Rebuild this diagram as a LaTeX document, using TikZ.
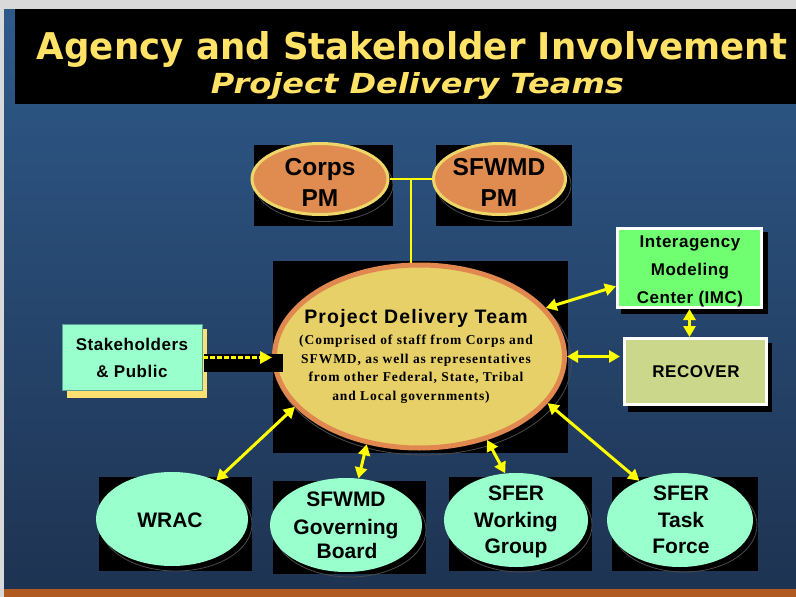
\documentclass[tikz,border=0pt]{standalone}
\usepackage{fontspec}
\setmainfont{Liberation Sans}
\newfontfamily\titlefont{DejaVu Sans}
\newfontfamily\serifb{Liberation Serif}
\usetikzlibrary{shapes.geometric,arrows.meta,calc}
\definecolor{lgray}{RGB}{217,217,217}
\definecolor{bgtop}{RGB}{46,90,138}
\definecolor{bgbot}{RGB}{30,51,82}
\definecolor{ttl}{RGB}{255,226,102}
\definecolor{pmfill}{RGB}{224,140,80}
\definecolor{pmedge}{RGB}{238,214,104}
\definecolor{pdtfill}{RGB}{232,208,104}
\definecolor{pdtedge}{RGB}{224,136,80}
\definecolor{aqua}{RGB}{153,255,204}
\definecolor{imcg}{RGB}{112,255,112}
\definecolor{recg}{RGB}{203,215,139}
\definecolor{shy}{RGB}{255,224,112}
\definecolor{orng}{RGB}{176,90,34}
\definecolor{arr}{RGB}{255,255,0}
\definecolor{stedge}{RGB}{90,160,150}
\definecolor{shline}{RGB}{75,75,75}
\begin{document}
\begin{tikzpicture}[x=1pt,y=-1pt,
  lbl/.style={anchor=base, inner sep=0, font=\bfseries\fontsize{21}{21}\selectfont},
  pmlbl/.style={anchor=base, inner sep=0, font=\bfseries\fontsize{24.5}{24.5}\selectfont},
  boxlbl/.style={anchor=base, inner sep=0, font=\bfseries\fontsize{17}{17}\selectfont\addfontfeature{LetterSpace=3}},
  sublbl/.style={anchor=base, inner sep=0, font=\serifb\bfseries\fontsize{13.5}{13.5}\selectfont\addfontfeature{LetterSpace=7}},
  pmell/.style={ellipse, fill=pmfill, draw=pmedge, line width=3pt, inner sep=0},
  aqell/.style={ellipse, fill=aqua, inner sep=0, minimum height=94pt},
  wbox/.style={rectangle, draw=white, line width=3pt, inner sep=0},
  shell/.style={draw=shline, line width=0.8pt},
  conn/.style={draw=arr, line width=2pt},
  dar/.style={draw=arr, line width=3pt, {Triangle[length=11pt,width=12pt]}-{Triangle[length=11pt,width=12pt]}},
  dashar/.style={draw=arr, line width=3.5pt, dash pattern=on 5pt off 2pt, -{Triangle[length=12pt,width=12pt]}}
]
\useasboundingbox (0,0) rectangle (796,597);
% background
\fill[lgray] (0,0) rectangle (796,597);
\shade[top color=bgtop, bottom color=bgbot] (4,9) rectangle (796,589);
\fill[orng] (4,589) rectangle (796,597);
\fill[black] (15,9) rectangle (796,104);
% title
\node[anchor=base, inner sep=0, text=ttl] (t1) at (412,59) {\resizebox{750pt}{28pt}{\titlefont\bfseries\fontsize{40}{40}\selectfont Agency and Stakeholder Involvement}};
\node[anchor=base, inner sep=0, text=ttl] (t2) at (417.5,93) {\resizebox{413pt}{21pt}{\titlefont\bfseries\itshape\fontsize{30}{30}\selectfont Project Delivery Teams}};
% top PM ellipses
\fill[black] (254,145) rectangle (393,226);
\fill[black] (436,145) rectangle (572,226);
\draw[shell] (324,185) ellipse (69 and 36.5);
\draw[shell] (503.5,185) ellipse (67.5 and 36.5);
\node[pmell, minimum width=136pt, minimum height=71pt] (corps) at (320,179) {};
\node[pmell, minimum width=132pt, minimum height=71pt] (sfw) at (499.5,179) {};
\node[pmlbl] (corps1) at (320,175) {Corps};
\node[pmlbl] (corps2) at (320,206) {PM};
\node[pmlbl] (sfw1) at (499,175) {SFWMD};
\node[pmlbl] (sfw2) at (499,206) {PM};
% PDT
\fill[black] (273,261) rectangle (568,453);
\draw[shell] (423.5,362) ellipse (148 and 93);
\node[ellipse, fill=pdtfill, draw=pdtedge, line width=5pt, inner sep=0, minimum width=290pt, minimum height=183pt] (pdt) at (419.5,356.5) {};
\node[anchor=base, inner sep=0, font=\bfseries\fontsize{19.5}{19.5}\selectfont\addfontfeature{LetterSpace=6}] (pdtt) at (416,323) {Project Delivery Team};
\node[sublbl] (pl1) at (416,344) {(Comprised of staff from Corps and};
\node[sublbl] (pl2) at (416,363) {SFWMD, as well as representatives};
\node[sublbl] (pl3) at (416,381) {from other Federal, State, Tribal};
\node[sublbl] (pl4) at (411,400) {and Local governments)};
% stakeholders
\fill[shy] (67,329) rectangle (207,398);
\node[rectangle, fill=aqua, draw=stedge, line width=0.8pt, inner sep=0, minimum width=140pt, minimum height=66pt] (stake) at (132.5,357.5) {};
\node[boxlbl] (st1) at (132,350) {Stakeholders};
\node[boxlbl] (st2) at (132,377) {\& Public};
\fill[black] (204,354) rectangle (283,372);
% IMC
\fill[black] (621,232) rectangle (768,314);
\node[wbox, fill=imcg, minimum width=144pt, minimum height=79pt] (imc) at (689.5,268) {};
\node[boxlbl] (imc1) at (690,247) {Interagency};
\node[boxlbl] (imc2) at (690,275) {Modeling};
\node[boxlbl] (imc3) at (690,303) {Center (IMC)};
% RECOVER
\fill[black] (628,343) rectangle (772,412);
\node[wbox, fill=recg, minimum width=142pt, minimum height=66pt] (rec) at (695.5,371.5) {};
\node[boxlbl] (rec1) at (696,377) {RECOVER};
% bottom ellipses
\fill[black] (99,477) rectangle (252,571);
\fill[black] (273,481) rectangle (426,574);
\fill[black] (449,477) rectangle (592,571);
\fill[black] (612,477) rectangle (758,571);
\draw[shell] (176,524) ellipse (76 and 47);
\draw[shell] (350,530) ellipse (76 and 47);
\draw[shell] (520,525) ellipse (72 and 47);
\draw[shell] (684,525) ellipse (73 and 47);
\node[aqell, minimum width=152pt] (wrac) at (172,519) {};
\node[aqell, minimum width=152pt] (gb) at (346,525) {};
\node[aqell, minimum width=144pt] (wg) at (516,520) {};
\node[aqell, minimum width=146pt] (tf) at (680,520) {};
\node[lbl] (wrac1) at (170,527) {WRAC};
\node[lbl] (gb1) at (346,506) {SFWMD};
\node[lbl] (gb2) at (346,534) {Governing};
\node[lbl] (gb3) at (347,558) {Board};
\node[lbl] (wg1) at (516,500) {SFER};
\node[lbl] (wg2) at (516,527) {Working};
\node[lbl] (wg3) at (516,553) {Group};
\node[lbl] (tf1) at (681,500) {SFER};
\node[lbl] (tf2) at (681,527) {Task};
\node[lbl] (tf3) at (681,553) {Force};
% connectors
\coordinate (tj) at ($(corps.east)!0.5!(sfw.west)$);
\draw[conn] (corps.east) -- (sfw.west);
\draw[conn] (tj) -- (tj |- pdt.north);
\draw[dashar] (stake.east) -- (stake.east -| pdt.west);
\draw[dar] (pdt.21) -- (imc.194);
\draw[dar] (imc.south) -- (imc.south |- rec.north);
\draw[dar, shorten >=3pt] (pdt.east) -- (pdt.east -| rec.west);
\draw[dar] (pdt.202) -- (wrac.41);
\draw[dar] (pdt.239) -- (gb.75);
\draw[dar] (pdt.309) -- (wg.103);
\draw[dar] (pdt.340) -- (tf.136);
\end{tikzpicture}
\end{document}
